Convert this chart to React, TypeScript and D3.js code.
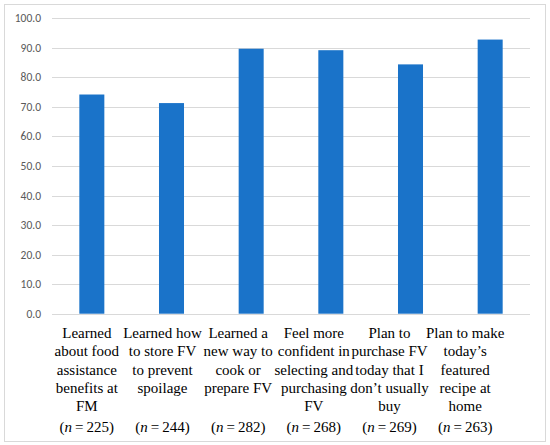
import { useEffect, useRef } from 'react';
import * as d3 from 'd3';

const categories = [
  ['Learned', 'about food', 'assistance', 'benefits at', 'FM'],
  ['Learned how', 'to store FV', 'to prevent', 'spoilage'],
  ['Learned a', 'new way to', 'cook or', 'prepare FV'],
  ['Feel more', 'confident in', 'selecting and', 'purchasing', 'FV'],
  ['Plan to', 'purchase FV', 'today that I', 'don\u2019t usually', 'buy'],
  ['Plan to make', 'today\u2019s', 'featured', 'recipe at', 'home'],
];
const sampleSizes = [225, 244, 282, 268, 269, 263];
const percents = [74.2, 71.3, 89.7, 89.2, 84.4, 92.8];
const yTicks = [0, 10, 20, 30, 40, 50, 60, 70, 80, 90, 100];

const W = 550;
const H = 445;

export default function App() {
  const svgRef = useRef<SVGSVGElement>(null);

  useEffect(() => {
    if (!svgRef.current) return;
    const svg = d3.select(svgRef.current);
    svg.selectAll('*').remove();

    // outer frame
    svg
      .append('rect')
      .attr('x', 4.5)
      .attr('y', 4.5)
      .attr('width', 541)
      .attr('height', 437)
      .attr('fill', '#fff')
      .attr('stroke', '#d9d9d9');

    const plot = { left: 52, right: 530, top: 18.3, bottom: 313.7 };
    const ids = categories.map((_, i) => String(i));

    const x = d3.scaleBand().domain(ids).range([plot.left, plot.right]).paddingInner(0.686).paddingOuter(0.343);
    // labels sit on a slightly narrower spacing than the bars
    const xl = d3.scaleBand().domain(ids).range([49, 503]);
    const y = d3.scaleLinear().domain([0, 100]).range([plot.bottom, plot.top]);

    // grid
    svg
      .append('g')
      .selectAll('line')
      .data(yTicks)
      .enter()
      .append('line')
      .attr('x1', plot.left)
      .attr('x2', plot.right)
      .attr('y1', (d) => Math.round(y(d)) + 0.5)
      .attr('y2', (d) => Math.round(y(d)) + 0.5)
      .attr('stroke', '#d9d9d9')
      .attr('stroke-width', 1);

    // y tick labels
    svg
      .append('g')
      .selectAll('text')
      .data(yTicks)
      .enter()
      .append('text')
      .attr('x', 41)
      .attr('y', (d) => y(d))
      .attr('dy', '0.35em')
      .attr('text-anchor', 'end')
      .attr('fill', '#595959')
      .attr('font-family', 'Carlito, "Open Sans", "Noto Sans", sans-serif')
      .attr('font-size', '11.5px')
      .text((d) => d.toFixed(1));

    // bars
    svg
      .append('g')
      .selectAll('rect')
      .data(percents)
      .enter()
      .append('rect')
      .attr('x', (_, i) => x(String(i)) || 0)
      .attr('y', (d) => y(d))
      .attr('width', x.bandwidth())
      .attr('height', (d) => plot.bottom - y(d))
      .attr('fill', '#1a73c9');

    // category labels
    const labelFont = '"Liberation Serif", "DejaVu Serif", serif';
    const lh = 18.3;
    const lab = svg
      .append('g')
      .selectAll('text')
      .data(categories)
      .enter()
      .append('text')
      .attr('text-anchor', 'middle')
      .attr('font-family', labelFont)
      .attr('font-size', '15px')
      .attr('fill', '#000');
    lab
      .selectAll('tspan')
      .data((d, i) => d.map((t) => ({ t, i })))
      .enter()
      .append('tspan')
      .attr('x', (d) => (xl(String(d.i)) || 0) + xl.bandwidth() / 2)
      .attr('y', (_, j) => 338 + j * lh)
      .text((d) => d.t);

    // sample sizes
    const nl = svg
      .append('g')
      .selectAll('text')
      .data(sampleSizes)
      .enter()
      .append('text')
      .attr('x', (_, i) => (xl(String(i)) || 0) + xl.bandwidth() / 2)
      .attr('y', 432)
      .attr('text-anchor', 'middle')
      .attr('font-family', labelFont)
      .attr('font-size', '15px')
      .attr('fill', '#000');
    nl.append('tspan').text('(');
    nl.append('tspan').attr('font-style', 'italic').text('n');
    nl.append('tspan').text((d) => '\u2009=\u2009' + d + ')');
  }, []);

  return <svg ref={svgRef} width={W} height={H} style={{ position: 'absolute', left: 0, top: 0 }} />;
}
